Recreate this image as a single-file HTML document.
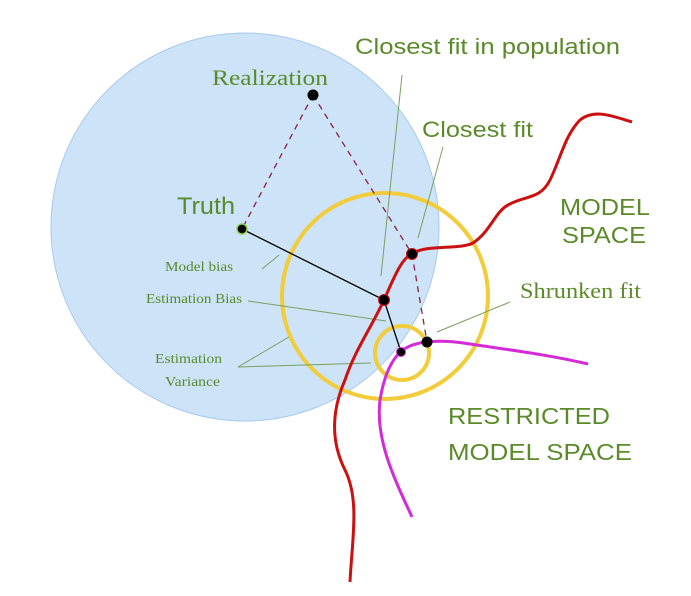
<!DOCTYPE html>
<html><head><meta charset="utf-8"><style>
html,body{margin:0;padding:0;background:#fff;}
svg{display:block;}
.s{font-family:"Liberation Sans",sans-serif;fill:#5a8a2a;}
.r{font-family:"Liberation Serif",serif;fill:#5a8a2a;}
</style></head><body>
<svg width="691" height="596" viewBox="0 0 691 596" xmlns="http://www.w3.org/2000/svg">
<circle cx="245" cy="227" r="194" fill="#cde3f7" stroke="#a9c9ec" stroke-width="1"/>
<circle cx="385" cy="296" r="103" fill="none" stroke="#f1cc3c" stroke-width="4"/>
<circle cx="402" cy="353" r="27" fill="none" stroke="#f1cc3c" stroke-width="4"/>
<g stroke="#7aa060" stroke-width="1" fill="none">
<line x1="262" y1="269" x2="279" y2="255"/>
<line x1="248" y1="301" x2="386" y2="321"/>
<line x1="238" y1="367" x2="289" y2="337"/>
<line x1="238" y1="367" x2="371" y2="363"/>
<line x1="402" y1="75" x2="381" y2="276"/>
<line x1="443" y1="147" x2="418" y2="238"/>
<line x1="510" y1="302" x2="437" y2="332"/>
</g>
<path d="M350,582 C352,540 360,500 345,470 C330,440 332,410 345,380 C355,350 370,330 384,300 C395,275 402,258 412,254 C425,244 460,250 473,243 C490,232 495,212 508,205 C525,195 540,200 550,180 C560,160 565,135 580,120 C595,108 615,117 632,122" fill="none" stroke="#cc1010" stroke-width="3"/>
<path d="M412,517 C395,480 375,440 380,400 C385,370 395,352 410,346 C425,340 445,340 470,344 C510,350 550,355 588,364" fill="none" stroke="#d42ad8" stroke-width="3"/>
<g stroke="#8a2040" stroke-width="1.3" stroke-dasharray="6,5" fill="none">
<line x1="313" y1="95" x2="242" y2="229"/>
<polyline points="313,95 412,254 427,342"/>
</g>
<polyline points="242,229 384,300 401,352" fill="none" stroke="#000" stroke-width="1.3"/>
<circle cx="313" cy="95" r="5.5" fill="#000"/>
<circle cx="242" cy="229" r="5" fill="#000" stroke="#8dd04a" stroke-width="1.5"/>
<circle cx="412" cy="254" r="5.5" fill="#000" stroke="#cc1010" stroke-width="1"/>
<circle cx="384" cy="300" r="5.5" fill="#000" stroke="#cc1010" stroke-width="1"/>
<circle cx="427" cy="342" r="5.5" fill="#000"/>
<circle cx="401" cy="352" r="4.5" fill="#000" stroke="#d42ad8" stroke-width="1"/>
<text x="212" y="85" class="r" font-size="22" textLength="116" lengthAdjust="spacingAndGlyphs">Realization</text>
<text x="355" y="54" class="s" font-size="22" textLength="265" lengthAdjust="spacingAndGlyphs">Closest fit in population</text>
<text x="422" y="137" class="s" font-size="22" textLength="111" lengthAdjust="spacingAndGlyphs">Closest fit</text>
<text x="177" y="214" class="s" font-size="24" textLength="58" lengthAdjust="spacingAndGlyphs">Truth</text>
<text x="560" y="215" class="s" font-size="23" textLength="90" lengthAdjust="spacingAndGlyphs">MODEL</text>
<text x="562" y="243" class="s" font-size="23" textLength="84" lengthAdjust="spacingAndGlyphs">SPACE</text>
<text x="520" y="298" class="r" font-size="22" textLength="121" lengthAdjust="spacingAndGlyphs">Shrunken fit</text>
<text x="448" y="424" class="s" font-size="23" textLength="162" lengthAdjust="spacingAndGlyphs">RESTRICTED</text>
<text x="448" y="460" class="s" font-size="23" textLength="184" lengthAdjust="spacingAndGlyphs">MODEL SPACE</text>
<text x="165" y="271" class="r" font-size="14" textLength="68" lengthAdjust="spacingAndGlyphs">Model bias</text>
<text x="146" y="303" class="r" font-size="14" textLength="96" lengthAdjust="spacingAndGlyphs">Estimation Bias</text>
<text x="155" y="363" class="r" font-size="14" textLength="67" lengthAdjust="spacingAndGlyphs">Estimation</text>
<text x="165" y="386" class="r" font-size="14" textLength="55" lengthAdjust="spacingAndGlyphs">Variance</text>
</svg>
</body></html>
